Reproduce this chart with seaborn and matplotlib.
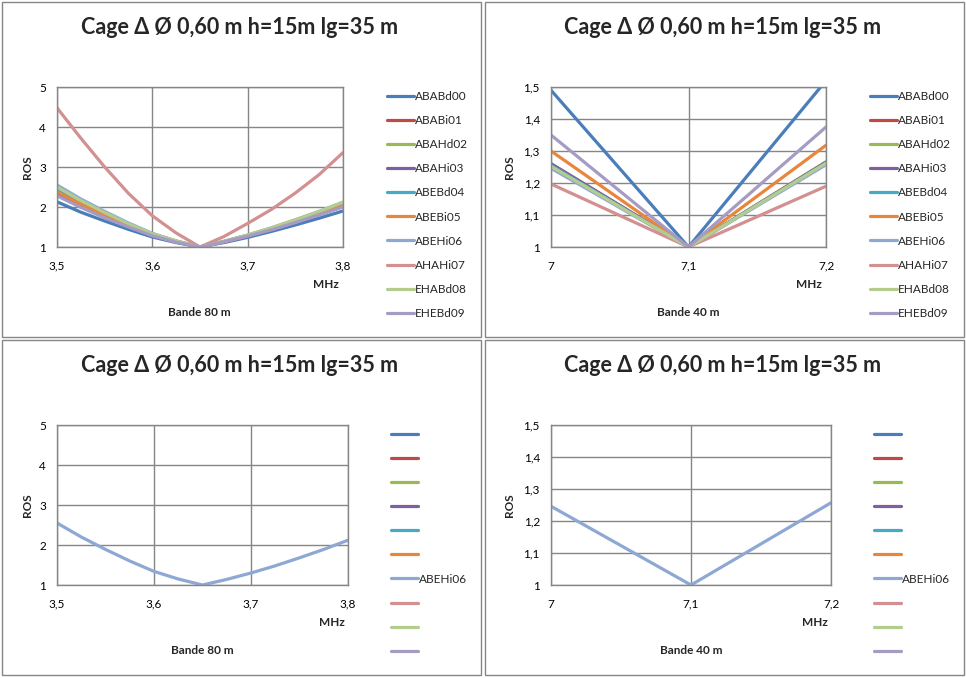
import matplotlib
matplotlib.use('Agg')
import matplotlib.pyplot as plt
from matplotlib.lines import Line2D
from matplotlib.patches import Rectangle
from matplotlib.ticker import FuncFormatter, MultipleLocator
import pandas as pd
import seaborn as sns

# Series names and colours (Excel style palette)
SERIES = ['ABABd00', 'ABABi01', 'ABAHd02', 'ABAHi03', 'ABEBd04',
          'ABEBi05', 'ABEHi06', 'AHAHi07', 'EHABd08', 'EHEBd09']
COLORS = ['#4A7EBB', '#BE4B48', '#98B954', '#7D60A0', '#46AAC5',
          '#E8863C', '#8EA8D4', '#D39090', '#B5CC8F', '#A69BC3']

# Bande 80 m
MHZ_80 = [3.5, 3.525, 3.55, 3.575, 3.6, 3.625, 3.65,
          3.675, 3.7, 3.725, 3.75, 3.775, 3.8]
ros80_ababd00 = [2.13, 1.87, 1.65, 1.44, 1.25, 1.11, 1.0, 1.11, 1.24, 1.39, 1.55, 1.72, 1.90]
ros80_ababi01 = [2.40, 2.08, 1.80, 1.54, 1.31, 1.14, 1.0, 1.13, 1.28, 1.45, 1.64, 1.83, 2.05]
ros80_abahd02 = [2.50, 2.16, 1.86, 1.58, 1.33, 1.15, 1.0, 1.14, 1.29, 1.47, 1.67, 1.87, 2.10]
ros80_abahi03 = [2.35, 2.04, 1.77, 1.52, 1.30, 1.13, 1.0, 1.13, 1.27, 1.44, 1.62, 1.81, 2.02]
ros80_abebd04 = [2.45, 2.12, 1.83, 1.56, 1.32, 1.14, 1.0, 1.13, 1.29, 1.46, 1.66, 1.86, 2.08]
ros80_abebi05 = [2.38, 2.07, 1.79, 1.53, 1.30, 1.13, 1.0, 1.13, 1.28, 1.45, 1.64, 1.83, 2.05]
ros80_abehi06 = [2.55, 2.20, 1.89, 1.60, 1.34, 1.15, 1.0, 1.14, 1.30, 1.48, 1.68, 1.89, 2.12]
ros80_ahahi07 = [4.48, 3.72, 3.00, 2.34, 1.78, 1.35, 1.0, 1.26, 1.59, 1.94, 2.35, 2.81, 3.36]
ros80_ehabd08 = [2.50, 2.16, 1.86, 1.58, 1.33, 1.15, 1.0, 1.14, 1.30, 1.48, 1.68, 1.89, 2.12]
ros80_ehebd09 = [2.28, 1.99, 1.73, 1.50, 1.28, 1.12, 1.0, 1.13, 1.27, 1.43, 1.61, 1.80, 2.00]

# Bande 40 m
MHZ_40 = [7.0, 7.1, 7.2]
ros40_ababd00 = [1.49, 1.0, 1.52]
ros40_ababi01 = [1.26, 1.0, 1.265]
ros40_abahd02 = [1.256, 1.0, 1.266]
ros40_abahi03 = [1.26, 1.0, 1.265]
ros40_abebd04 = [1.255, 1.0, 1.262]
ros40_abebi05 = [1.30, 1.0, 1.318]
ros40_abehi06 = [1.246, 1.0, 1.257]
ros40_ahahi07 = [1.197, 1.0, 1.19]
ros40_ehabd08 = [1.252, 1.0, 1.262]
ros40_ehebd09 = [1.35, 1.0, 1.375]

ROS_80 = [ros80_ababd00, ros80_ababi01, ros80_abahd02, ros80_abahi03, ros80_abebd04,
          ros80_abebi05, ros80_abehi06, ros80_ahahi07, ros80_ehabd08, ros80_ehebd09]
ROS_40 = [ros40_ababd00, ros40_ababi01, ros40_abahd02, ros40_abahi03, ros40_abebd04,
          ros40_abebi05, ros40_abehi06, ros40_ahahi07, ros40_ehabd08, ros40_ehebd09]

TITLE = 'Cage Δ Ø 0,60 m h=15m lg=35 m'
FONT = ['Lato', 'DejaVu Sans']
GRID = '#868686'
SMALL = 8.5
W, H = 966, 678


def long_df(mhz, values):
    rows = []
    for name, vals in zip(SERIES, values):
        for x, y in zip(mhz, vals):
            rows.append({'MHz': x, 'ROS': y, 'serie': name})
    return pd.DataFrame(rows)


def comma(v, pos):
    s = f'{v:.2f}'.rstrip('0').rstrip('.')
    return s.replace('.', ',')


def px(x, y):
    return x / W, 1 - y / H


sns.set_style('white')
plt.rcParams['font.family'] = FONT

fig = plt.figure(figsize=(W / 100, H / 100), dpi=100)
palette = dict(zip(SERIES, COLORS))

df80 = long_df(MHZ_80, ROS_80)
df40 = long_df(MHZ_40, ROS_40)

# panel origin, plot box (l, t, r, b), band, data, shown series, limits, y step
panels = [
    (0, 0, 57, 87, 343, 247, '80', df80, SERIES, (3.5, 3.8), (1, 5), 1.0),
    (483, 0, 551, 87, 826, 247, '40', df40, SERIES, (7.0, 7.2), (1, 1.5), 0.1),
    (0, 338, 57, 425, 348, 585, '80', df80, ['ABEHi06'], (3.5, 3.8), (1, 5), 1.0),
    (483, 338, 551, 425, 831, 585, '40', df40, ['ABEHi06'], (7.0, 7.2), (1, 1.5), 0.1),
]

for ox, oy, l, t, r, b, band, df, shown, xlim, ylim, ystep in panels:
    # panel frame
    x0, y0 = px(ox + 1.5, oy + 337)
    fig.add_artist(Rectangle((x0, y0), 479 / W, 335.5 / H, transform=fig.transFigure,
                             fill=False, edgecolor=GRID, linewidth=1))

    ax = fig.add_axes([l / W, 1 - b / H, (r - l) / W, (b - t) / H])
    sub = df[df['serie'].isin(shown)]
    sns.lineplot(data=sub, x='MHz', y='ROS', hue='serie', palette=palette,
                 linewidth=2.3, legend=False, sort=False, ax=ax)
    ax.set_xlim(*xlim)
    ax.set_ylim(*ylim)
    ax.xaxis.set_major_locator(MultipleLocator(0.1))
    ax.yaxis.set_major_locator(MultipleLocator(ystep))
    ax.xaxis.set_major_formatter(FuncFormatter(comma))
    ax.yaxis.set_major_formatter(FuncFormatter(comma))
    ax.grid(True, color=GRID, linewidth=1)
    ax.set_axisbelow(True)
    for sp in ax.spines.values():
        sp.set_color(GRID)
        sp.set_linewidth(1)
    ax.tick_params(length=0, labelsize=SMALL, colors='black', pad=10)
    ax.tick_params(axis='y', pad=8)
    ax.set_xlabel('')
    ax.set_ylabel('')

    # texts
    fig.text(*px(ox + 240, oy + 27), TITLE, ha='center', va='center',
             fontsize=15.5, fontweight='bold')
    fig.text(*px(ox + 27, oy + 167), 'ROS', ha='center', va='center',
             rotation=90, fontsize=SMALL, fontweight='bold')
    mhz_x = 326 if oy == 0 else 332
    band_x = 199 if oy == 0 else 202
    if ox:
        band_x += 6
    fig.text(*px(ox + mhz_x, oy + 285), 'MHz', ha='center', va='center',
             fontsize=SMALL, fontweight='bold')
    fig.text(*px(ox + band_x, oy + 313), f'Bande {band} m', ha='center', va='center',
             fontsize=SMALL, fontweight='bold')

    # legend (bottom panels keep the entries but only name ABEHi06)
    handles = [Line2D([], [], color=c, linewidth=2.3) for c in COLORS]
    labels = [s if s in shown else '' for s in SERIES]
    lx = (387 if oy == 0 else 391) + (483 if ox else 0)
    if ox and oy == 0:
        lx = 870
    ax.legend(handles, labels, loc='upper left',
              bbox_to_anchor=px(lx, oy + 91), bbox_transform=fig.transFigure,
              frameon=False, fontsize=SMALL, borderpad=0, borderaxespad=0,
              handlelength=2.3, handletextpad=0.1, labelspacing=1.11)

fig.savefig('out.png', dpi=100)
